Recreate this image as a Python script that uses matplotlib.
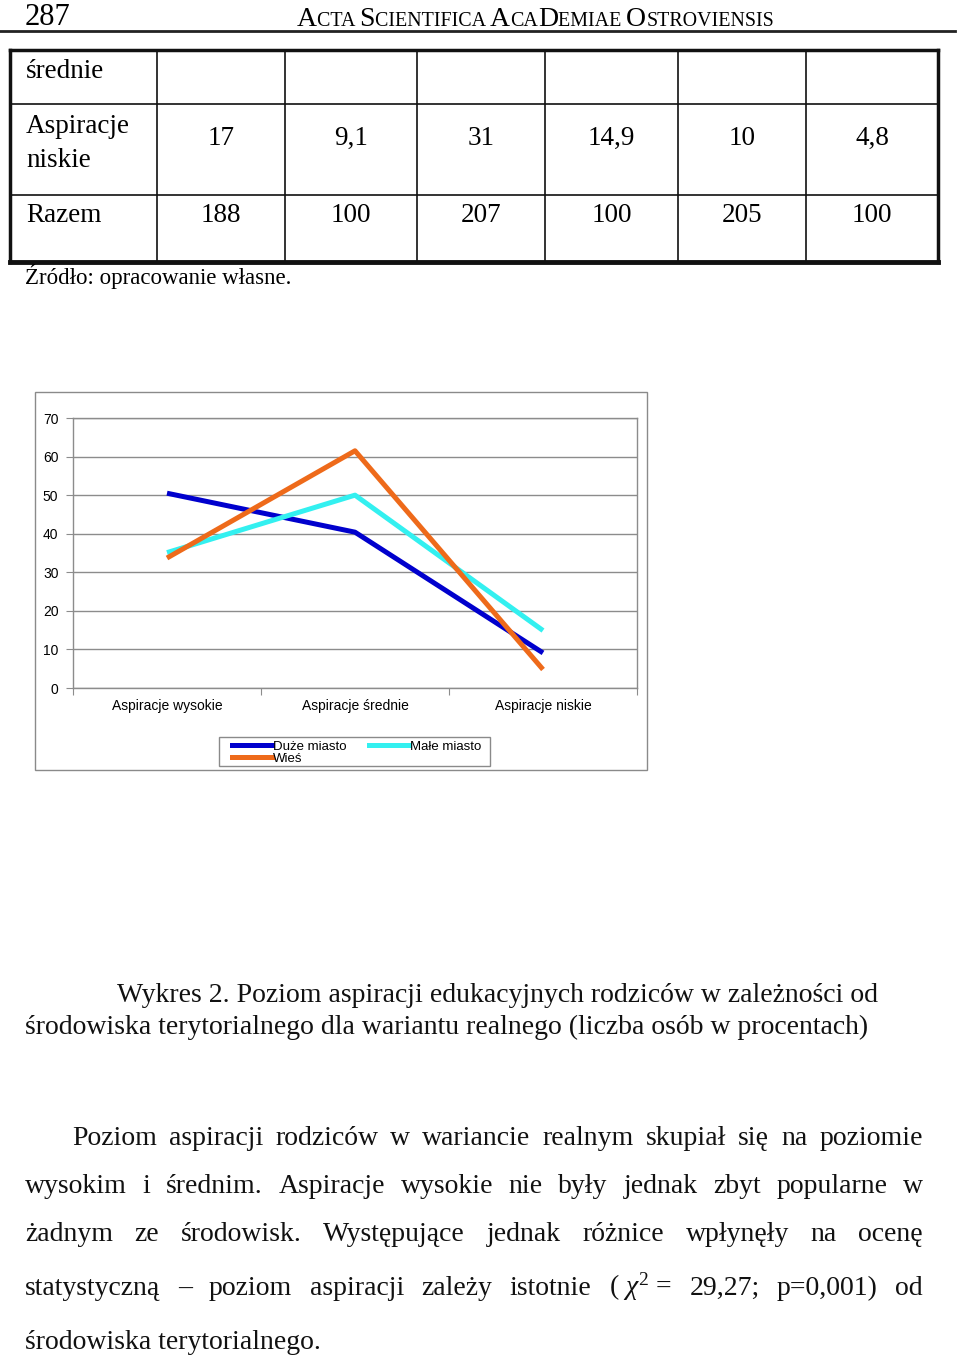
import numpy as np
import matplotlib
matplotlib.use("Agg")
import matplotlib.pyplot as plt
from matplotlib.lines import Line2D
from matplotlib.patches import Rectangle

W, H = 960, 1360
SERIF = "Liberation Serif"
SANS = "Liberation Sans"
plt.rcParams["mathtext.fontset"] = "custom"
plt.rcParams["mathtext.rm"] = SERIF
plt.rcParams["mathtext.it"] = SERIF + ":italic"

# chart data (percent)
categories = ["Aspiracje wysokie", "Aspiracje średnie", "Aspiracje niskie"]
series_names = ["Duże miasto", "Małe miasto", "Wieś"]
duze_miasto = [50.5, 40.4, 9.1]
male_miasto = [35.1, 50.0, 14.9]
wies = [33.7, 61.5, 4.8]
series_colors = ["#0000CD", "#33F0F0", "#EE6A1A"]
y_ticks = [0, 10, 20, 30, 40, 50, 60, 70]

# table fragment above the chart
table_row_labels = [["średnie"], ["Aspiracje", "niskie"], ["Razem"]]
table_values = [
    ["", "", "", "", "", ""],
    ["17", "9,1", "31", "14,9", "10", "4,8"],
    ["188", "100", "207", "100", "205", "100"],
]

caption = ["Wykres 2. Poziom aspiracji edukacyjnych rodziców w zależności od",
           "środowiska terytorialnego dla wariantu realnego (liczba osób w procentach)"]
# "~" keeps a normal space inside one justified word
paragraph = [
    "Poziom aspiracji rodziców w wariancie realnym skupiał się na poziomie",
    "wysokim i średnim. Aspiracje wysokie nie były jednak zbyt popularne w",
    "żadnym ze środowisk. Występujące jednak różnice wpłynęły na ocenę",
    "statystyczną – poziom aspiracji zależy istotnie (~$\\chi^{2}$~= 29,27; p=0,001) od",
    "środowiska terytorialnego.",
]

fig = plt.figure(figsize=(9.6, 13.6), dpi=100)
page = fig.add_axes([0, 0, 1, 1])
page.set_xlim(0, W)
page.set_ylim(H, 0)
page.axis("off")
renderer = fig.canvas.get_renderer()


def frac(x0, y0, x1, y1):
    return [x0 / W, 1 - y1 / H, (x1 - x0) / W, (y1 - y0) / H]


def runs(x, y, parts, family=SERIF):
    for s, size in parts:
        t = page.text(x, y, s, fontsize=size, family=family, va="baseline")
        x += t.get_window_extent(renderer).width


def justify(line, x0, x1, y, size):
    words = [w.replace("~", " ") for w in line.split(" ")]
    texts = [page.text(0, y, w, fontsize=size, family=SERIF, va="baseline",
                       color="#111111") for w in words]
    widths = [t.get_window_extent(renderer).width for t in texts]
    gap = (x1 - x0 - sum(widths)) / max(len(words) - 1, 1)
    x = x0
    for t, w in zip(texts, widths):
        t.set_x(x)
        x += w + gap


# header
page.text(25, 25, "287", fontsize=22, family=SERIF, va="baseline")
big, small = 20, 14.4
runs(297, 26, [("A", big), ("CTA ", small), ("S", big), ("CIENTIFICA ", small),
               ("A", big), ("CA", small), ("D", big), ("EMIAE ", small),
               ("O", big), ("STROVIENSIS", small)])
page.plot([0, 955], [31, 31], color="#222222", lw=2)

# table
col_edges = [10, 157, 285, 417, 545, 678, 806, 938]
row_edges = [50, 104, 195, 262]
for i, x in enumerate(col_edges):
    outer = i in (0, len(col_edges) - 1)
    page.plot([x, x], [row_edges[0], row_edges[-1]], color="#111111",
              lw=2.5 if outer else 1.2)
for i, y in enumerate(row_edges):
    page.plot([col_edges[0], col_edges[-1]], [y, y], color="#111111",
              lw=[2.5, 1.2, 1.2, 3.5][i])
label_baselines = [[78], [133, 167], [222]]
value_baselines = [78, 145, 222]
for r in range(len(table_values)):
    for line, yb in zip(table_row_labels[r], label_baselines[r]):
        page.text(26, yb, line, fontsize=19.5, family=SERIF, va="baseline")
    for c, v in enumerate(table_values[r]):
        xc = (col_edges[c + 1] + col_edges[c + 2]) / 2
        page.text(xc, value_baselines[r], v, fontsize=19.5, family=SERIF,
                  va="baseline", ha="center")
page.text(25, 284, "Źródło: opracowanie własne.", fontsize=16.5, family=SERIF,
          va="baseline")

# chart frame and legend frame
page.add_patch(Rectangle((35, 392), 612, 378, fill=False, ec="#8a8a8a", lw=1))
page.add_patch(Rectangle((219, 737), 271, 29, fill=False, ec="#8a8a8a", lw=1))

ax = fig.add_axes(frac(73, 418, 637, 688))
xpos = np.arange(len(categories)) + 0.5
for vals, name, col in zip([duze_miasto, male_miasto, wies], series_names,
                           series_colors):
    ax.plot(xpos, vals, color=col, lw=3.6, solid_capstyle="butt", label=name)
ax.set_xlim(0, len(categories))
ax.set_ylim(0, 70)
ax.set_yticks(y_ticks)
ax.set_yticklabels([str(v) for v in y_ticks], fontsize=10, family=SANS)
ax.yaxis.grid(True, color="#8c8c8c", lw=1)
ax.set_axisbelow(True)
ax.set_xticks(np.arange(len(categories) + 1))
ax.set_xticklabels([])
ax.set_xticks(xpos, minor=True)
ax.set_xticklabels(categories, minor=True, fontsize=10, family=SANS)
ax.tick_params(axis="x", which="major", length=5, color="#8c8c8c")
ax.tick_params(axis="x", which="minor", length=0, pad=8)
ax.tick_params(axis="y", length=5, color="#8c8c8c", pad=5.5)
for s in ax.spines.values():
    s.set_color("#8c8c8c")
    s.set_linewidth(1)

handles = [Line2D([], [], color=c, lw=3.6) for c in series_colors]
order = [0, 2, 1]
fig.legend([handles[i] for i in order], [series_names[i] for i in order],
           ncol=2, loc="upper left", bbox_to_anchor=(231 / W, 1 - 739 / H),
           bbox_transform=fig.transFigure, borderaxespad=0, frameon=False,
           prop={"family": SANS, "size": 9.5},
           handlelength=3.0, handletextpad=0.1, columnspacing=1.7,
           labelspacing=0.0, borderpad=0.1)

# caption
page.text(117, 1002, caption[0], fontsize=20, family=SERIF, va="baseline", color="#111111")
page.text(25, 1034, caption[1], fontsize=20, family=SERIF, va="baseline", color="#111111")

# body paragraph
baselines = [1145, 1193, 1241, 1295, 1349]
for i, (line, yb) in enumerate(zip(paragraph, baselines)):
    if i == len(paragraph) - 1:
        page.text(25, yb, line, fontsize=20, family=SERIF, va="baseline", color="#111111")
    else:
        justify(line, 72 if i == 0 else 25, 923, yb, 20)

fig.savefig("out.png", dpi=100)
